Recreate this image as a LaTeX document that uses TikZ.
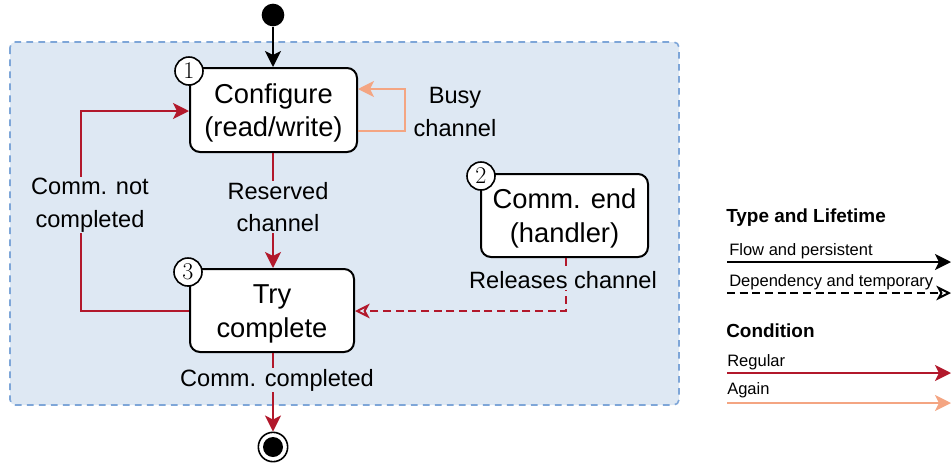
\documentclass[tikz,border=0pt]{standalone}
\usepackage{fontspec}
\setsansfont{Liberation Sans}
\usetikzlibrary{arrows.meta}

\definecolor{cred}{RGB}{178,24,43}
\definecolor{corange}{RGB}{244,165,130}
\definecolor{cfill}{RGB}{222,232,243}
\definecolor{cborder}{RGB}{126,166,216}

\begin{document}
\begin{tikzpicture}[x=0.75pt,y=-0.75pt,
  statebox/.style={draw, line width=1.5pt, rounded corners=7.5pt, fill=white, inner sep=0pt},
  statetxt/.style={align=center, inner sep=0pt, font=\sffamily\fontsize{20.5}{25}\selectfont},
  numcirc/.style={circle, draw, line width=1.2pt, fill=white, inner sep=0pt,
    minimum size=21pt, font=\rmfamily\fontsize{18}{18}\selectfont},
  lbl/.style={align=center, inner sep=1pt, font=\sffamily\fontsize{17.7}{24.5}\selectfont},
  lblbg/.style={lbl, fill=cfill},
  legtxt/.style={anchor=west, inner sep=0pt, font=\sffamily\fontsize{12.4}{14}\selectfont},
  leghead/.style={anchor=west, inner sep=0pt, font=\sffamily\bfseries\fontsize{14.2}{16}\selectfont},
  tip/.style={-{Stealth[length=12pt,width=12pt,inset=3pt]}},
  opentip/.style={-{Stealth[open,length=11pt,width=11pt,inset=3pt]}},
  flow/.style={line width=1.5pt, tip},
  regular/.style={flow, draw=cred},
  again/.style={flow, draw=corange},
  depend/.style={line width=1.5pt, dash pattern=on 6pt off 3.5pt, opentip},
]
\useasboundingbox (0,0) rectangle (951,465);

% container of the communication states
\draw[fill=cfill, draw=cborder, line width=1.2pt, dash pattern=on 5pt off 4pt,
  rounded corners=4pt] (10,42) rectangle (679,405);

% initial and final pseudo states
\node[circle, fill=black, minimum size=17pt, inner sep=0pt] (start) at (273,15) {};
\node[circle, draw, line width=1.2pt, fill=white, minimum size=22pt, inner sep=0pt] (stop) at (273,447) {};
\fill (stop.center) circle (10);

% states
\node[statebox, minimum width=125.25pt, minimum height=63pt] (conf) at (273.5,110) {};
\node[statetxt] (conftxt) at (273.5,113) {Configure\\(read/write)};
\node[statebox, minimum width=125.25pt, minimum height=62.25pt] (cend) at (564.5,215.5) {};
\node[statetxt] (cendtxt) at (564.5,218.5) {Comm. end\\(handler)};
\node[statebox, minimum width=123pt, minimum height=62.25pt] (try) at (272,310.5) {};
\node[statetxt] (trytxt) at (272,314) {Try\\complete};

\node[numcirc] (n1) at (189,71) {1};
\node[numcirc] (n2) at (481,176) {2};
\node[numcirc] (n3) at (188,272) {3};

% transitions
\draw[flow] (start) -- (start |- conf.north);
\draw[again] (conf.east |- 0,131) -- (405,131) -- (405,89) -- (conf.east |- 0,89);
\node[lbl] (busy) at (455,112) {Busy\\channel};

\draw[regular] (conf.south -| 273,0) -- (try.north -| 273,0);
\node[lblbg] (resv) at (278,207) {Reserved\\channel};

\coordinate (nc1) at (81,311);
\coordinate (nc2) at (81,111);
\draw[regular] (try.west |- nc1) -- (nc1) -- (nc2) -- (conf.west |- nc2);
\node[lblbg] (notdone) at (90,205) {Comm. not\\completed};

\coordinate (rl) at (566,311);
\draw[depend, draw=cred] (cend.south -| rl) -- (rl) -- (try.east |- rl);
\node[lblbg] (rel) at (563,280) {Releases channel};

\draw[regular] (try.south -| 273,0) -- (stop.north);
\node[lblbg] (done) at (277,380) {Comm. completed};

% legend
\node[leghead] (lh1) at (726,218) {Type and Lifetime};
\node[legtxt] (lt1) at (729,251) {Flow and persistent};
\coordinate (a1) at (727,262); \coordinate (b1) at (951,262);
\draw[flow] (a1) -- (b1);
\node[legtxt] (lt2) at (729,282) {Dependency and temporary};
\coordinate (a2) at (727,293); \coordinate (b2) at (951,293);
\draw[depend] (a2) -- (b2);

\node[leghead] (lh2) at (726,331) {Condition};
\node[legtxt] (lt3) at (727,362) {Regular};
\coordinate (a3) at (727,373); \coordinate (b3) at (951,373);
\draw[regular] (a3) -- (b3);
\node[legtxt] (lt4) at (727,390) {Again};
\coordinate (a4) at (727,403); \coordinate (b4) at (951,403);
\draw[again] (a4) -- (b4);
\end{tikzpicture}
\end{document}
